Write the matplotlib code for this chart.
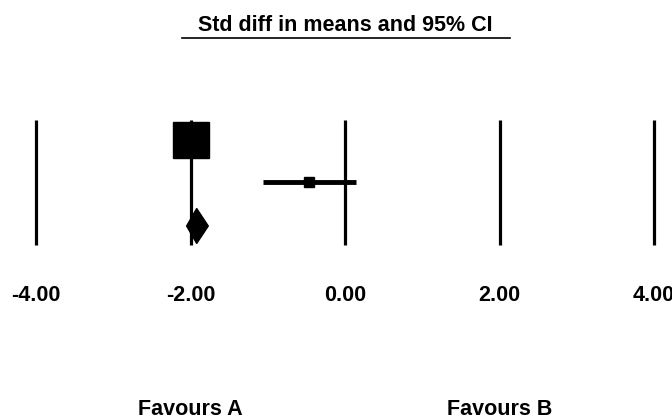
import matplotlib
matplotlib.use('Agg')
import matplotlib.pyplot as plt
from matplotlib.patches import Polygon

# Forest plot data (std diff in means)
study_est = [-2.00, -0.46]
study_low = [-2.06, -1.06]
study_high = [-1.94, 0.14]
study_size = [26, 6.5]
summary_est = -1.92
summary_low = -2.05
summary_high = -1.77
ticks = [-4, -2, 0, 2, 4]

plt.rcParams['font.family'] = ['Liberation Sans', 'DejaVu Sans']

fig = plt.figure(figsize=(6.72, 4.18), dpi=100)
ax = fig.add_axes([0, 0, 1, 1])
ax.set_xlim(-4 - 36 / 77.25, -4 + 636 / 77.25)
ax.set_ylim(418, 0)
ax.axis('off')

# vertical reference lines
ax.vlines(ticks, 120, 245, color='black', lw=2.3, zorder=1)

# studies
rows = [140, 182]
for y, est, lo, hi, s in zip(rows, study_est, study_low, study_high, study_size):
    ax.plot([lo, hi], [y, y], color='black', lw=3.5, solid_capstyle='butt', zorder=2)
    ax.plot(est, y, marker='s', ms=s, color='black', mec='black', zorder=3)

# summary diamond
ys = 226
h = 17.5
diamond = Polygon([(summary_low, ys), (summary_est, ys - h), (summary_high, ys),
                   (summary_est, ys + h)], closed=True, color='black', zorder=3)
ax.add_patch(diamond)

fs = 15.5
# tick labels
for t in ticks:
    ax.text(t, 301, f"{t:.2f}", ha='center', va='baseline', fontsize=fs, fontweight='bold')

# title with underline
ax.text(0, 31, "Std diff in means and 95% CI", ha='center', va='baseline',
        fontsize=fs, fontweight='bold')
ax.axhline(37.5, xmin=182 / 672, xmax=510 / 672, color='black', lw=1.2)

ax.text(-2, 415, "Favours A", ha='center', va='baseline', fontsize=fs, fontweight='bold')
ax.text(2, 415, "Favours B", ha='center', va='baseline', fontsize=fs, fontweight='bold')

fig.savefig('out.png', dpi=100)
